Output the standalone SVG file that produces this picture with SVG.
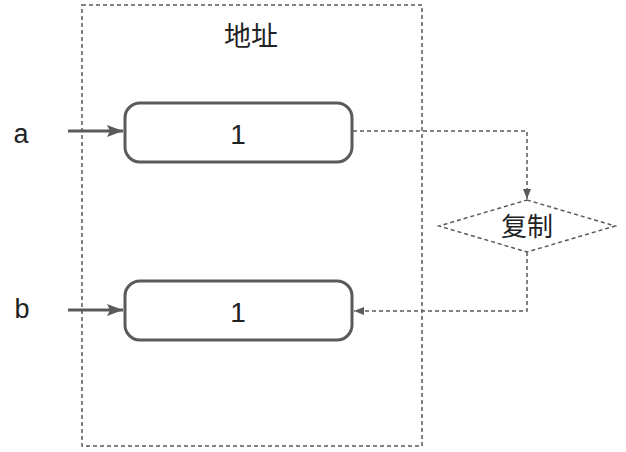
<svg xmlns="http://www.w3.org/2000/svg" width="626" height="452" viewBox="0 0 626 452">
<style>
.t{font-family:"Liberation Sans","Noto Sans CJK SC",sans-serif;fill:#222;text-anchor:middle}
.box{fill:#fff;stroke:#5a5a5a;stroke-width:3}
.dash{fill:none;stroke:#5a5a5a;stroke-width:1.5;stroke-dasharray:4 3}
.solid{fill:none;stroke:#5a5a5a;stroke-width:3}
</style>
<defs>
<marker id="ah" markerWidth="10" markerHeight="8" refX="10" refY="4" orient="auto" markerUnits="userSpaceOnUse"><path d="M0,0 L10,4 L0,8 Z" fill="#5a5a5a"/></marker>
<marker id="ahs" markerWidth="16" markerHeight="12" refX="16" refY="6" orient="auto" markerUnits="userSpaceOnUse"><path d="M0,0 L16,6 L0,12 L3,6 Z" fill="#5a5a5a"/></marker>
</defs>
<g id="container">
<rect x="82" y="5" width="340" height="441" class="dash"/>
<text x="251" y="46" class="t" font-size="27">地址</text>
</g>
<g id="label-a"><text x="21" y="143" class="t" font-size="27">a</text></g>
<g id="label-b"><text x="22" y="318" class="t" font-size="27">b</text></g>
<g id="box1">
<rect x="125" y="103" width="227" height="59" rx="15" class="box"/>
<text x="238" y="144" class="t" font-size="28">1</text>
</g>
<g id="box2">
<rect x="125" y="281" width="227" height="59" rx="15" class="box"/>
<text x="238" y="322" class="t" font-size="28">1</text>
</g>
<g id="copy">
<polygon points="527,200 615,226 527,252 439,226" fill="#fff" class="dash"/>
<text x="527" y="236" class="t" font-size="26">复制</text>
</g>
<g id="connectors">
<path d="M68,131 L123,131" class="solid" marker-end="url(#ahs)"/>
<path d="M68,310 L123,310" class="solid" marker-end="url(#ahs)"/>
<path d="M353,131 L527,131 L527,199" class="dash" marker-end="url(#ah)"/>
<path d="M527,252 L527,311 L354,311" class="dash" marker-end="url(#ah)"/>
</g>
</svg>
